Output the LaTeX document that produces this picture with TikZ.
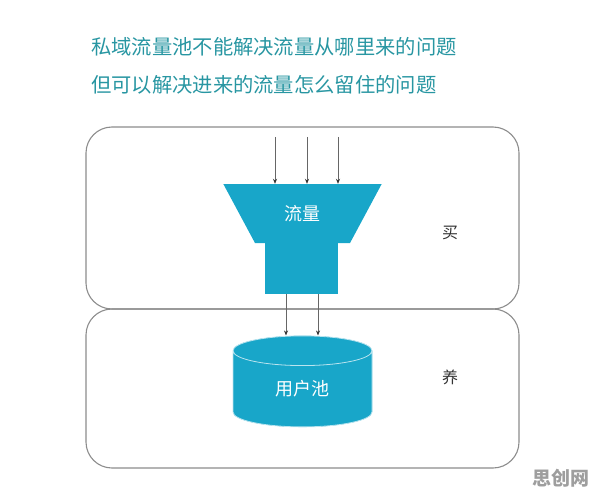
\documentclass[tikz,border=0pt]{standalone}
\usepackage{fontspec}
\setmainfont{Noto Sans CJK SC}
\usetikzlibrary{shapes.geometric,arrows.meta}
\definecolor{titlecol}{RGB}{40,150,162}
\definecolor{poolcol}{RGB}{24,166,201}
\definecolor{framecol}{RGB}{140,140,140}

\begin{document}
\begin{tikzpicture}[x=1pt,y=-1pt,
  frame/.style={draw=framecol, line width=1.1pt, rounded corners=26pt, minimum width=433pt, inner sep=0pt},
  feed/.style={draw=black!60, line width=0.6pt, -{Stealth[length=5pt,width=4pt,black!80]}}]
\path[use as bounding box] (0,0) rectangle (596,497);
% title
\node[anchor=west, text=titlecol, font=\fontsize{20.3}{20.3}\selectfont, inner sep=0pt] (t1) at (91,47) {私域流量池不能解决流量从哪里来的问题};
\node[anchor=west, text=titlecol, font=\fontsize{20.3}{20.3}\selectfont, inner sep=0pt] (t2) at (91,85) {但可以解决进来的流量怎么留住的问题};
% two stages
\node[frame, minimum height=182pt] (buy) at (302.5,218) {};
\node[frame, minimum height=159pt] (keep) at (302.5,388.5) {};
\node[font=\fontsize{16}{16}\selectfont, text=black!80] (buylbl) at (450,233) {买};
\node[font=\fontsize{16}{16}\selectfont, text=black!80] (keeplbl) at (450,377) {养};
% funnel
\node[trapezium, shape border rotate=180, trapezium angle=54, trapezium stretches=true,
  fill=poolcol, minimum width=159pt, minimum height=59pt, inner sep=0pt,
  text=white, font=\fontsize{18}{18}\selectfont] (funnel) at (302.5,213.5) {流量};
\node[fill=poolcol, minimum width=73pt, minimum height=51pt, inner sep=0pt] (neck) at (301.5,268.5) {};
% pool
\node[cylinder, shape border rotate=90, aspect=0.55, fill=poolcol, draw=white!70!poolcol, line width=0.8pt,
  cylinder uses custom fill, cylinder body fill=poolcol, cylinder end fill=poolcol,
  minimum width=139pt, minimum height=91pt, inner sep=0pt,
  text=white, font=\fontsize{18}{18}\selectfont] (pool) at (302.5,389) {用户池};
% inflow
\coordinate (in1) at (275,137);
\coordinate (in2) at (307,137);
\coordinate (in3) at (338,137);
\path[feed] (in1) -- (in1 |- funnel.north);
\path[feed] (in2) -- (in2 |- funnel.north);
\path[feed] (in3) -- (in3 |- funnel.north);
% into the pool
\coordinate (out1) at (286,294);
\coordinate (out2) at (318,294);
\path[feed] (out1 |- neck.south) -- (out1 |- pool.north);
\path[feed] (out2 |- neck.south) -- (out2 |- pool.north);
% watermark
\node[text=black!38, font=\fontsize{19}{19}\selectfont\bfseries] (mark) at (561,478) {思创网};
\end{tikzpicture}
\end{document}
